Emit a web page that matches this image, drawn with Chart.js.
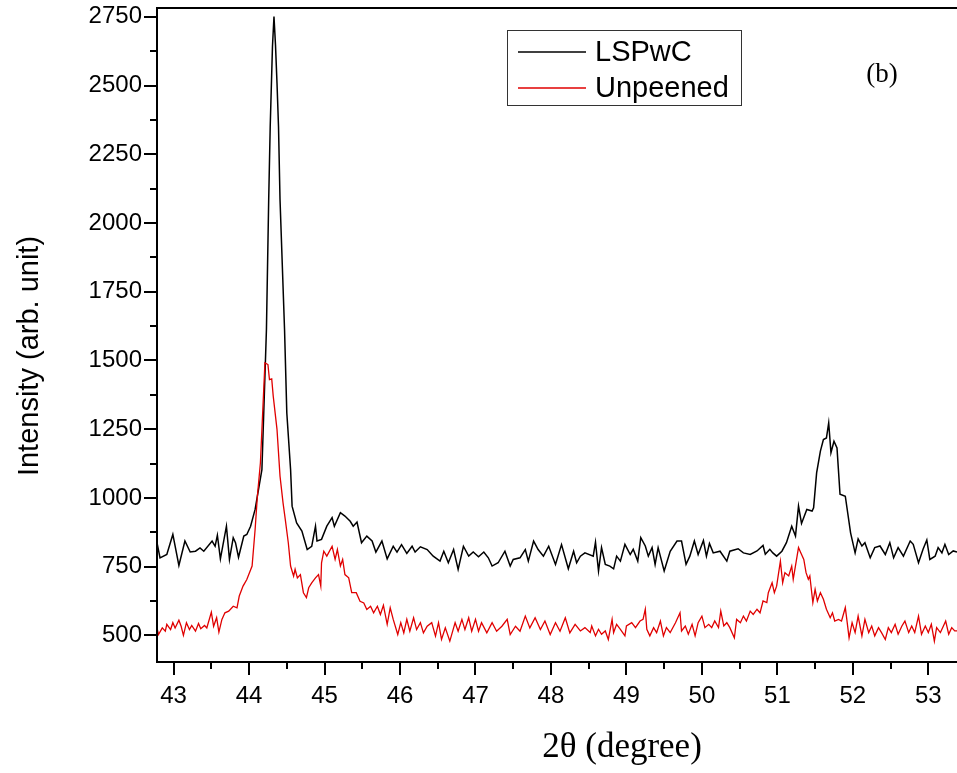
<!DOCTYPE html>
<html>
<head>
<meta charset="utf-8">
<script src="https://cdn.jsdelivr.net/npm/chart.js@4.4.1/dist/chart.umd.min.js"></script>
<style>
    html, body { margin: 0; padding: 0; background: #fff; }
    canvas { display: block; }
</style>
</head>
<body>
<canvas id="xrdChart" width="957" height="773"></canvas>
<script>
// Data (2theta in degrees, intensity in arb. unit)
const seriesNames = ['LSPwC', 'Unpeened'];

const lspAngle = [
    42.78, 42.82, 42.91, 42.99, 43.07, 43.15, 43.22, 43.29, 43.35, 43.40,
    43.51, 43.55, 43.58, 43.62, 43.70, 43.74, 43.79, 43.82, 43.86, 43.93,
    43.97, 44.02, 44.08, 44.17, 44.23, 44.26, 44.28, 44.31, 44.33, 44.35,
    44.37, 44.39, 44.41, 44.47, 44.50, 44.55, 44.57, 44.63, 44.70, 44.77,
    44.83, 44.88, 44.90, 44.96, 45.03, 45.10, 45.13, 45.21, 45.27, 45.34,
    45.38, 45.43, 45.49, 45.56, 45.63, 45.68, 45.76, 45.83, 45.91, 45.96,
    46.02, 46.09, 46.16, 46.20, 46.27, 46.36, 46.44, 46.53, 46.58, 46.64,
    46.71, 46.77, 46.84, 46.91, 46.97, 47.04, 47.11, 47.17, 47.22, 47.30,
    47.39, 47.46, 47.50, 47.59, 47.66, 47.70, 47.77, 47.83, 47.90, 47.97,
    48.06, 48.14, 48.23, 48.30, 48.34, 48.39, 48.45, 48.56, 48.59, 48.63,
    48.67, 48.72, 48.78, 48.83, 48.87, 48.92, 48.98, 49.05, 49.09, 49.15,
    49.19, 49.25, 49.29, 49.34, 49.38, 49.42, 49.50, 49.58, 49.67, 49.73,
    49.79, 49.84, 49.90, 49.95, 50.02, 50.06, 50.10, 50.15, 50.24, 50.33,
    50.37, 50.48, 50.55, 50.64, 50.73, 50.81, 50.84, 50.90, 50.94, 50.99,
    51.06, 51.12, 51.19, 51.24, 51.28, 51.32, 51.39, 51.46, 51.48, 51.52,
    51.57, 51.61, 51.65, 51.68, 51.71, 51.75, 51.79, 51.83, 51.90, 51.97,
    52.03, 52.07, 52.12, 52.16, 52.23, 52.29, 52.36, 52.43, 52.49, 52.54,
    52.60, 52.67, 52.76, 52.80, 52.87, 52.93, 52.98, 53.02, 53.09, 53.13,
    53.18, 53.22, 53.27, 53.33, 53.38
];
const lspIntensity = [
    837, 782, 794, 867, 754, 843, 803, 806, 818, 806,
    843, 824, 864, 778, 897, 776, 855, 837, 784, 861,
    867, 897, 958, 1103, 1612, 2085, 2351, 2642, 2751, 2648,
    2509, 2351, 2085, 1612, 1309, 1103, 970, 909, 879, 812,
    824, 897, 843, 849, 897, 928, 897, 946, 934, 915,
    897, 912, 837, 861, 843, 803, 843, 778, 824, 803,
    830, 798, 824, 803, 822, 812, 788, 770, 806, 764,
    812, 740, 824, 788, 803, 786, 803, 782, 752, 764,
    806, 752, 776, 782, 812, 770, 843, 812, 788, 824,
    758, 830, 742, 806, 764, 788, 800, 788, 839, 734,
    819, 758, 752, 742, 788, 770, 831, 794, 813, 770,
    855, 825, 788, 819, 758, 819, 734, 806, 843, 843,
    758, 788, 843, 794, 845, 788, 834, 800, 806, 770,
    806, 815, 800, 794, 807, 827, 795, 813, 800, 788,
    806, 837, 897, 861, 970, 907, 958, 952, 964, 1091,
    1170, 1212, 1218, 1273, 1164, 1206, 1182, 1013, 1006, 873,
    800, 851, 825, 837, 782, 819, 825, 794, 837, 782,
    819, 788, 843, 831, 764, 813, 847, 776, 788, 819,
    800, 831, 794, 807, 803
];

const unpAngle = [
    42.78, 42.80, 42.85, 42.89, 42.91, 42.96, 42.99, 43.02, 43.07, 43.10,
    43.13, 43.17, 43.21, 43.24, 43.29, 43.33, 43.36, 43.41, 43.44, 43.50,
    43.53, 43.57, 43.60, 43.64, 43.68, 43.73, 43.79, 43.84, 43.87, 43.92,
    43.97, 44.04, 44.08, 44.11, 44.15, 44.18, 44.21, 44.25, 44.27, 44.30,
    44.32, 44.37, 44.41, 44.45, 44.48, 44.52, 44.55, 44.59, 44.61, 44.64,
    44.68, 44.72, 44.76, 44.79, 44.83, 44.88, 44.92, 44.95, 44.96, 44.99,
    45.03, 45.10, 45.14, 45.17, 45.21, 45.24, 45.27, 45.32, 45.36, 45.42,
    45.47, 45.52, 45.56, 45.61, 45.65, 45.70, 45.74, 45.78, 45.83, 45.87,
    45.91, 45.97, 46.01, 46.05, 46.09, 46.13, 46.18, 46.22, 46.27, 46.31,
    46.36, 46.42, 46.47, 46.51, 46.55, 46.60, 46.66, 46.73, 46.77, 46.82,
    46.86, 46.91, 46.95, 47.00, 47.04, 47.08, 47.15, 47.22, 47.28, 47.35,
    47.42, 47.46, 47.53, 47.59, 47.66, 47.72, 47.79, 47.86, 47.92, 47.99,
    48.06, 48.12, 48.19, 48.25, 48.32, 48.39, 48.45, 48.52, 48.54, 48.59,
    48.63, 48.67, 48.72, 48.76, 48.81, 48.83, 48.87, 48.92, 48.98, 49.00,
    49.07, 49.12, 49.18, 49.22, 49.25, 49.27, 49.31, 49.36, 49.40, 49.45,
    49.49, 49.53, 49.58, 49.65, 49.71, 49.73, 49.78, 49.82, 49.87, 49.91,
    49.95, 50.00, 50.04, 50.09, 50.13, 50.17, 50.22, 50.25, 50.29, 50.33,
    50.37, 50.43, 50.46, 50.51, 50.55, 50.59, 50.64, 50.68, 50.73, 50.77,
    50.81, 50.86, 50.88, 50.93, 50.96, 50.99, 51.04, 51.07, 51.10, 51.15,
    51.19, 51.21, 51.25, 51.28, 51.31, 51.35, 51.38, 51.41, 51.43, 51.47,
    51.50, 51.53, 51.57, 51.61, 51.65, 51.70, 51.73, 51.76, 51.81, 51.85,
    51.90, 51.92, 51.95, 51.99, 52.03, 52.07, 52.12, 52.16, 52.21, 52.25,
    52.29, 52.34, 52.38, 52.43, 52.47, 52.51, 52.56, 52.60, 52.65, 52.69,
    52.74, 52.78, 52.82, 52.87, 52.91, 52.96, 53.00, 53.04, 53.08, 53.11,
    53.16, 53.20, 53.23, 53.27, 53.31, 53.35, 53.38
];
const unpIntensity = [
    527, 503, 527, 515, 540, 521, 546, 527, 555, 533,
    500, 546, 521, 536, 515, 543, 524, 536, 527, 584,
    533, 564, 512, 558, 582, 588, 606, 600, 643, 679,
    703, 752, 885, 1006, 1127, 1309, 1491, 1485, 1430, 1433,
    1370, 1249, 1079, 982, 921, 836, 752, 715, 740, 709,
    721, 655, 637, 673, 691, 709, 721, 679, 764, 806,
    788, 824, 776, 812, 752, 776, 721, 709, 655, 655,
    624, 618, 594, 606, 582, 606, 576, 609, 540, 600,
    558, 503, 546, 509, 558, 515, 564, 521, 546, 509,
    533, 546, 497, 546, 485, 527, 479, 546, 515, 558,
    521, 564, 515, 558, 515, 546, 509, 546, 515, 533,
    558, 503, 533, 515, 570, 527, 564, 521, 552, 503,
    546, 515, 564, 509, 540, 516, 528, 510, 534, 498,
    522, 504, 516, 485, 558, 510, 540, 522, 498, 534,
    546, 528, 552, 558, 595, 522, 498, 528, 510, 552,
    498, 528, 510, 546, 582, 516, 534, 504, 540, 498,
    546, 570, 528, 540, 528, 552, 528, 588, 534, 546,
    528, 491, 558, 546, 570, 552, 588, 576, 595, 582,
    625, 619, 655, 691, 655, 679, 770, 691, 728, 716,
    752, 704, 770, 819, 800, 776, 728, 704, 716, 619,
    667, 625, 655, 631, 595, 564, 582, 552, 558, 552,
    601, 558, 491, 546, 510, 570, 498, 558, 510, 534,
    498, 528, 510, 485, 528, 510, 540, 504, 534, 552,
    510, 534, 510, 570, 504, 534, 510, 540, 479, 528,
    510, 534, 552, 504, 528, 516, 516
];

// Axis ticks (major ones are labelled)
const xTickValues = [43, 43.5, 44, 44.5, 45, 45.5, 46, 46.5, 47, 47.5, 48, 48.5, 49, 49.5, 50, 50.5, 51, 51.5, 52, 52.5, 53];
const yTickValues = [500, 625, 750, 875, 1000, 1125, 1250, 1375, 1500, 1625, 1750, 1875, 2000, 2125, 2250, 2375, 2500, 2625, 2750];
const xRange = [42.78, 53.38];
const yRange = [403, 2782];

document.addEventListener('DOMContentLoaded', function() {
    const ctx = document.getElementById('xrdChart').getContext('2d');

    const toPoints = (xs, ys) => xs.map((x, i) => ({ x: x, y: ys[i] }));

    // Frame, tick marks, legend and titles
    const decorPlugin = {
        id: 'decor',
        afterDraw(chart) {
            const c = chart.ctx;
            const a = chart.chartArea;
            const xs = chart.scales.x;
            const ys = chart.scales.y;
            c.save();
            c.strokeStyle = '#000';
            c.lineWidth = 2;
            c.beginPath();
            c.moveTo(a.right, a.top);
            c.lineTo(a.left, a.top);
            c.lineTo(a.left, a.bottom);
            c.lineTo(a.right, a.bottom);
            c.stroke();

            c.beginPath();
            yTickValues.forEach(function(v) {
                const y = Math.round(ys.getPixelForValue(v));
                const len = v % 250 === 0 ? 13 : 7;
                c.moveTo(a.left - len, y);
                c.lineTo(a.left, y);
            });
            xTickValues.forEach(function(v) {
                const x = Math.round(xs.getPixelForValue(v));
                const len = v % 1 === 0 ? 13 : 7;
                c.moveTo(x, a.bottom);
                c.lineTo(x, a.bottom + len);
            });
            c.stroke();

            // Legend box
            c.lineWidth = 1;
            c.strokeStyle = '#333';
            c.strokeRect(507.5, 30.5, 234, 75);
            c.lineWidth = 1.5;
            c.strokeStyle = '#000';
            c.beginPath(); c.moveTo(518, 52); c.lineTo(586, 52); c.stroke();
            c.strokeStyle = '#e00000';
            c.beginPath(); c.moveTo(518, 88); c.lineTo(586, 88); c.stroke();
            c.fillStyle = '#000';
            c.font = '29px "Liberation Sans", Arial, sans-serif';
            c.textAlign = 'left';
            c.textBaseline = 'middle';
            c.fillText(seriesNames[0], 595, 53);
            c.fillText(seriesNames[1], 595, 89);

            // Panel label
            c.font = '27px "Liberation Serif", "Times New Roman", serif';
            c.textAlign = 'center';
            c.fillText('(b)', 882, 75);

            // Axis titles
            c.font = '35px "Liberation Serif", "Times New Roman", serif';
            c.textBaseline = 'alphabetic';
            c.fillText('2\u03B8 (degree)', 622, 757);

            c.save();
            c.translate(30, 356);
            c.rotate(-Math.PI / 2);
            c.font = '29px "Liberation Sans", Arial, sans-serif';
            c.textBaseline = 'middle';
            c.fillText('Intensity (arb. unit)', 0, 0);
            c.restore();
            c.restore();
        }
    };

    const xrdChart = new Chart(ctx, {
        type: 'line',
        data: {
            datasets: [{
                label: seriesNames[0],
                data: toPoints(lspAngle, lspIntensity),
                borderColor: '#000000',
                borderWidth: 1.5,
                pointRadius: 0,
                tension: 0,
                order: 1
            }, {
                label: seriesNames[1],
                data: toPoints(unpAngle, unpIntensity),
                borderColor: '#e00000',
                borderWidth: 1.3,
                pointRadius: 0,
                tension: 0,
                order: 0
            }]
        },
        options: {
            responsive: false,
            animation: false,
            devicePixelRatio: 1,
            layout: { padding: { top: 8, right: 0, bottom: 0, left: 0 } },
            plugins: {
                legend: { display: false },
                tooltip: { enabled: false }
            },
            scales: {
                x: {
                    type: 'linear',
                    min: xRange[0],
                    max: xRange[1],
                    grid: { display: false },
                    border: { display: false },
                    afterBuildTicks: function(scale) {
                        scale.ticks = xTickValues.map(v => ({ value: v }));
                    },
                    afterFit: function(scale) {
                        scale.height = 111;
                        scale.paddingLeft = 0;
                        scale.paddingRight = 0;
                    },
                    ticks: {
                        autoSkip: false,
                        maxRotation: 0,
                        padding: 12,
                        color: '#000',
                        font: { family: '"Liberation Sans", Arial, sans-serif', size: 24 },
                        callback: function(value) {
                            return value % 1 === 0 ? value : '';
                        }
                    }
                },
                y: {
                    type: 'linear',
                    min: yRange[0],
                    max: yRange[1],
                    grid: { display: false },
                    border: { display: false },
                    afterBuildTicks: function(scale) {
                        scale.ticks = yTickValues.map(v => ({ value: v }));
                    },
                    afterFit: function(scale) {
                        scale.width = 157;
                        scale.paddingTop = 0;
                        scale.paddingBottom = 0;
                    },
                    ticks: {
                        autoSkip: false,
                        padding: 7,
                        color: '#000',
                        font: { family: '"Liberation Sans", Arial, sans-serif', size: 24 },
                        callback: function(value) {
                            return value % 250 === 0 ? value : '';
                        }
                    }
                }
            }
        },
        plugins: [decorPlugin]
    });
});
</script>
</body>
</html>
